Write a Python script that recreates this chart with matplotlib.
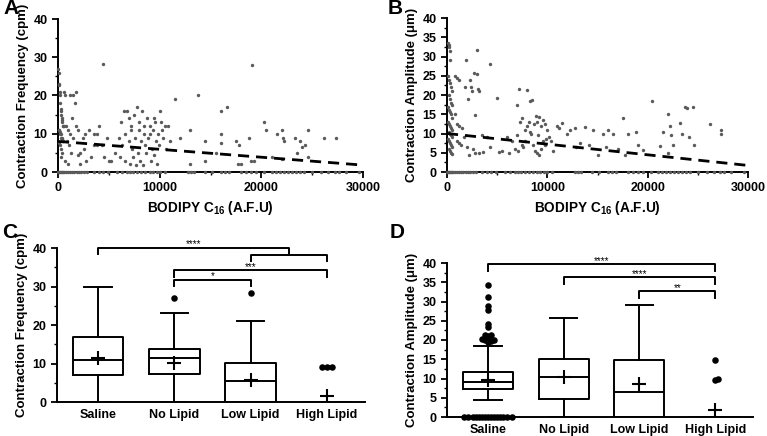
import numpy as np
import matplotlib
matplotlib.use("Agg")
import matplotlib.pyplot as plt
from matplotlib.ticker import MultipleLocator

plt.rcParams['font.family'] = 'Liberation Sans'
plt.rcParams['font.weight'] = 'bold'
plt.rcParams['axes.labelweight'] = 'bold'
plt.rcParams['mathtext.fontset'] = 'custom'
plt.rcParams['mathtext.rm'] = 'Liberation Sans:bold'
plt.rcParams['mathtext.bf'] = 'Liberation Sans:bold'

# ---- panel A : frequency vs BODIPY (x in thousands of A.F.U) ----
freq_x = [0.0, 0.05, 0.1, 0.1, 0.15, 0.2, 0.2, 0.25, 0.3, 0.3, 0.35, 0.4, 0.4, 0.45, 0.5,
          0.05, 0.1, 0.15, 0.2, 0.25, 0.3, 0.35, 0.4, 0.45, 0.5, 0.1, 0.2, 0.3, 0.4, 0.3,
          0.6, 0.7, 1.2, 1.5, 1.7, 1.8, 0.6, 0.8, 1.0, 1.2, 1.5, 0.9, 1.1, 1.3, 1.8, 2.0,
          2.2, 2.0, 2.2, 2.5, 2.7, 3.0, 3.2, 2.8, 2.6, 3.5, 3.8, 0.7, 1.0, 1.4,
          6.2, 6.5, 6.8, 7.0, 7.2, 7.5, 7.8, 8.0, 8.3, 8.5, 8.8, 9.0, 9.3, 9.5, 9.8, 10.0,
          10.2, 10.5, 10.8, 11.0, 6.0, 6.3, 6.6, 7.0, 7.3, 7.6, 7.9, 8.2, 8.6, 8.9, 9.2, 9.6,
          9.9, 10.3, 10.6, 6.1, 6.6, 7.1, 7.4, 7.7, 8.1, 8.4, 8.7, 9.1, 9.4, 9.7, 5.2, 5.6,
          4.8, 5.0, 4.0, 3.8, 4.3, 4.5, 3.5, 11.5, 12.0, 13.0, 13.0, 13.8, 14.5, 14.5, 15.5,
          16.0, 16.0, 16.0, 16.6, 17.5, 17.8, 17.7, 18.0, 18.8, 19.0, 19.3, 19.1, 20.3, 20.5,
          21.0, 21.5, 22.0, 22.1, 22.2, 22.0, 23.3, 23.5, 23.8, 24.0, 24.3, 24.6, 24.6, 26.2,
          27.3, 4.4, 8.0, 9.0, 8.5, 7.2, 9.4, 10.1]
freq_y = [27, 26, 23, 22.8, 21, 20, 18, 16.5, 16, 15, 14, 13.5, 13, 12, 12,
          11, 11, 10.5, 10, 10, 9, 9, 8.5, 8, 8, 7.5, 7, 6, 5, 4,
          21, 20, 20, 20, 18, 21, 12, 12, 11, 10, 9, 8, 7, 5, 12, 11,
          5, 4.5, 2, 9, 10, 11, 4, 3, 6, 7, 10, 3, 2, 14,
          13, 16, 16, 14, 12, 15, 17, 13, 16, 10, 14, 12, 11, 13, 10, 16,
          11, 12, 12, 8, 9, 7, 10, 8, 6, 9, 5, 8, 7, 9, 6, 8,
          7, 9, 6, 4, 3, 2, 4, 1.8, 3, 1.7, 5, 3, 4.5, 2, 3, 5,
          9, 3, 12, 7, 7, 4, 10, 19, 9, 2, 11, 20, 8, 3, 5,
          16, 10, 7.5, 17, 8, 7, 2, 2, 9, 3, 3, 28, 13, 11,
          4, 10, 11, 9, 8, 3.5, 9, 5, 8, 6.5, 7, 11, 4, 9,
          9, 28.2, 11, 10, 12, 11, 14, 13]
zero_x = [0.0, 0.1, 0.2, 0.3, 0.4, 0.5, 0.6, 0.8, 1.0, 1.2, 1.4, 1.6, 1.9, 2.1, 2.3, 2.6,
          2.9, 3.5, 4.0, 4.4, 4.9, 5.8, 6.3, 6.8, 7.1, 7.4, 7.8, 8.2, 8.6, 9.0, 9.3, 9.7,
          10.0, 10.5, 12.8, 13.1, 13.4, 14.5, 15.1, 16.0, 16.4, 16.8, 18.0, 18.5, 19.0,
          19.5, 20.3, 21.0, 21.4, 21.8, 22.2, 22.6, 23.0, 23.4, 23.8, 24.2, 25.0, 25.9,
          26.6, 27.2, 27.6, 28.3, 29.6]
trend_x = [0, 30]
trend_freq = [8.0, 1.8]

# ---- panel B : amplitude vs BODIPY ----
amp_x = [0.1, 0.15, 0.2, 0.3, 0.25, 0.1, 0.2, 0.3, 0.4, 0.5, 0.15, 0.25, 0.35, 0.45, 0.1,
         0.2, 0.3, 0.4, 0.5, 0.1, 0.2, 0.3, 0.4, 0.5, 0.15, 0.25, 0.35, 0.45, 0.1, 0.2,
         0.3, 0.4, 0.5, 0.2, 0.3, 0.4, 0.5,
         0.8, 1.0, 1.2, 1.8, 1.9, 2.1, 2.3, 2.4, 2.5, 2.7, 2.8, 3.0, 3.0, 3.1, 3.2, 0.8,
         1.0, 1.2, 1.5, 1.0, 1.2, 1.4, 1.7, 2.0, 2.2, 2.6, 2.8, 3.2, 3.5, 3.6, 4.0, 4.3,
         4.3, 5.0, 5.2, 5.5, 6.0, 6.2, 6.5, 7.0, 7.2, 7.0, 7.3, 7.5, 7.8, 8.0, 8.3, 8.5,
         6.8, 7.1, 7.5, 7.8, 8.0, 8.2, 8.4, 8.7, 8.9, 9.0, 9.2, 9.4, 9.6, 9.8, 10.0, 8.6,
         8.8, 9.0, 9.2, 9.4, 9.6, 9.8, 10.2, 10.4, 10.6, 11.0, 11.2, 11.5, 12.0, 12.3,
         12.8, 12.9, 13.3, 13.8, 14.2, 14.6, 15.0, 15.5, 15.8, 16.0, 16.5, 17.0, 17.5,
         17.7, 18.0, 18.8, 19.0, 19.5, 20.4, 21.2, 21.5, 22.0, 22.0, 22.2, 22.3, 22.5,
         23.2, 23.4, 23.7, 23.9, 24.1, 24.5, 24.6, 26.2, 27.3, 27.3, 8.3, 9.1, 9.9, 7.6]
amp_y = [33.5, 33, 32.5, 31.5, 29, 25, 24, 23, 22, 21, 20, 19, 18, 17.5, 17,
         16, 15.5, 15, 14, 13, 12.5, 12, 11.5, 11, 10.5, 10, 9.5, 9, 8.5, 8,
         7.5, 7, 6.5, 6, 5.5, 5, 4.8,
         25, 24.5, 24, 22, 29.2, 19, 24, 22, 21, 25.7, 14.8, 25.5, 31.8, 21.5, 21, 15,
         12.5, 12, 11.5, 8, 7.5, 7, 9, 6.5, 4.5, 6, 5, 5, 9.5, 5.3, 9, 28,
         6.5, 19.2, 5.3, 5.5, 9, 5, 8, 17.3, 21.5, 9.5, 13, 14, 11, 21.2, 18.5, 18.8,
         6, 5.5, 7, 8, 12, 13, 10, 12.5, 14.5, 13, 14.2, 12, 13.5, 12.5, 11, 7,
         5.5, 5, 4.5, 6, 8, 7, 9, 8, 5.5, 12, 11.5, 12.7, 10, 11,
         11.3, 6.5, 7.5, 11.8, 7, 11, 4.5, 10, 6.5, 11, 10, 6, 14,
         4.5, 10, 10.5, 7, 5.8, 18.5, 6.8, 10.3, 5, 15, 12, 9.5, 7,
         12.7, 10, 16.8, 16.5, 9, 16.9, 7, 12.5, 11, 10, 10.5, 9.5, 8.5, 6.5]
trend_amp = [10.0, 1.7]

# ---- panels C and D : box plot summaries ----
groups = ['Saline', 'No Lipid', 'Low Lipid', 'High Lipid']
freq_q1 = [7.0, 7.2, 0.0, 0.0]
freq_med = [11.0, 11.5, 5.4, 0.0]
freq_q3 = [17.0, 13.8, 10.2, 0.0]
freq_lo = [0.0, 0.0, 0.0, 0.0]
freq_hi = [30.0, 23.0, 21.0, 0.0]
freq_mean = [11.3, 10.1, 5.8, 1.5]
freq_fliers = [[], [27.0], [28.2], [9.0, 9.0, 9.0]]

amp_q1 = [7.2, 4.8, 0.0, 0.0]
amp_med = [9.0, 10.5, 6.5, 0.0]
amp_q3 = [11.8, 15.0, 14.7, 0.0]
amp_lo = [4.5, 0.0, 0.0, 0.0]
amp_hi = [18.5, 25.6, 29.0, 0.0]
amp_mean = [9.7, 10.3, 8.6, 1.8]
amp_fliers = [[19.6, 19.7, 19.9, 20.1, 20.3, 21.1, 21.3, 21.4, 23.3, 24.1, 27.8, 28.9,
               31.2, 34.3] + [0.0] * 15, [], [], [14.7, 9.5, 9.8]]

# significance brackets: (left group, right group(s), bar height, label)
freq_sig = [(1, (3, 4), 40.0, '****'), (2, (4,), 34.2, '***'), (2, (3,), 31.8, '*')]
amp_sig = [(1, (4,), 39.7, '****'), (2, (4,), 36.3, '****'), (3, (4,), 32.6, '**')]

W, H = 767, 436
fig = plt.figure(figsize=(W / 100, H / 100), dpi=100)


def px_axes(l, t, r, b):
    return fig.add_axes([l / W, 1 - b / H, (r - l) / W, (b - t) / H])


def style(ax):
    for s in ['top', 'right']:
        ax.spines[s].set_visible(False)
    for s in ['left', 'bottom']:
        ax.spines[s].set_linewidth(1.4)
    ax.tick_params(which='major', direction='out', length=4, width=1.3, labelsize=9)
    ax.tick_params(which='minor', direction='out', length=2.5, width=1.0)


def scatter_panel(ax, x, y, trend, ylabel, ystep, yminor):
    ax.scatter(x, y, s=6, color='#5a5a5a', linewidths=0, zorder=3, clip_on=False)
    ax.scatter(zero_x, [0] * len(zero_x), s=6, color='#5a5a5a', linewidths=0,
               zorder=3, clip_on=False)
    ax.plot(trend_x, trend, color='black', lw=2, dashes=(4, 2.5), zorder=4)
    ax.set_xlim(0, 30)
    ax.set_ylim(0, 40)
    ax.set_xticks([0, 10, 20, 30])
    ax.set_xticklabels(['0', '10000', '20000', '30000'])
    ax.xaxis.set_minor_locator(MultipleLocator(5))
    ax.yaxis.set_major_locator(MultipleLocator(ystep))
    ax.yaxis.set_minor_locator(MultipleLocator(yminor))
    ax.set_xlabel(r'BODIPY C$_{\mathbf{16}}$ (A.F.U)', fontsize=9.8, labelpad=3)
    ax.set_ylabel(ylabel, fontsize=9.5, labelpad=3)
    style(ax)


def swarm(vals, pos, ax, dist):
    # simple beeswarm in pixel units
    placed = []
    pxx, pxy = 76.0, 154.0 / 40
    xs, ys = [], []
    for v in sorted(vals):
        for k in range(60):
            off = ((k + 1) // 2) * (1 if k % 2 else -1) * dist / pxx / 2
            ok = all(((off - o) * pxx) ** 2 + ((v - w) * pxy) ** 2 >= dist ** 2
                     for o, w in placed)
            if ok:
                placed.append((off, v))
                xs.append(pos + off)
                ys.append(v)
                break
    ax.scatter(xs, ys, s=22, color='black', linewidths=0, zorder=4, clip_on=False)


def box_panel(ax, q1, med, q3, lo, hi, mean, fliers, sig, ylabel, ystep, yminor, dist):
    stats = [dict(q1=a, med=m, q3=b, whislo=l, whishi=h, mean=mu, fliers=[])
             for a, m, b, l, h, mu in zip(q1, med, q3, lo, hi, mean)]
    lw = 1.4
    ax.bxp(stats, positions=[1, 2, 3, 4], widths=0.66, capwidths=0.36,
           showmeans=True, showfliers=False,
           boxprops=dict(lw=lw, color='black'), whiskerprops=dict(lw=lw),
           capprops=dict(lw=lw), medianprops=dict(lw=lw, color='black'),
           meanprops=dict(marker='+', markersize=10, markeredgecolor='black',
                          markeredgewidth=1.5))
    for i, f in enumerate(fliers):
        if f:
            swarm(f, i + 1, ax, dist)
    for left, rights, y, lab in sig:
        if len(rights) == 2:
            mid = sum(rights) / 2.0
            y2 = y - 1.7
            ax.plot([left, left, mid, mid], [y - 1.6, y, y, y2], color='black', lw=lw,
                    clip_on=False)
            ax.plot([rights[0], rights[0], rights[1], rights[1]],
                    [y2 - 1.8, y2, y2, y2 - 1.8], color='black', lw=lw, clip_on=False)
            xm = (left + mid) / 2.0
        else:
            r = rights[0]
            ax.plot([left, left, r, r], [y - 1.7, y, y, y - 1.7], color='black', lw=lw,
                    clip_on=False)
            xm = (left + r) / 2.0
        ax.text(xm, y + 0.9, lab, ha='center', va='center', fontsize=7,
                fontweight='normal')
    ax.set_xlim(0.46, 4.5)
    ax.set_ylim(0, 40)
    ax.set_xticks([1, 2, 3, 4])
    ax.set_xticklabels(groups)
    ax.yaxis.set_major_locator(MultipleLocator(ystep))
    ax.yaxis.set_minor_locator(MultipleLocator(yminor))
    ax.set_ylabel(ylabel, fontsize=9.5, labelpad=3)
    style(ax)
    ax.tick_params(axis='x', length=0, pad=5, labelsize=9)


axA = px_axes(58, 19, 363, 172)
scatter_panel(axA, freq_x, freq_y, trend_freq, 'Contraction Frequency (cpm)', 10, 5)

axB = px_axes(447, 18, 748, 172)
scatter_panel(axB, amp_x, amp_y, trend_amp, 'Contraction Amplitude (μm)', 5, 2.5)

axC = px_axes(57, 248, 365, 402)
box_panel(axC, freq_q1, freq_med, freq_q3, freq_lo, freq_hi, freq_mean, freq_fliers,
          freq_sig, 'Contraction Frequency (cpm)', 10, 5, 5.0)

axD = px_axes(447, 263, 753, 417)
box_panel(axD, amp_q1, amp_med, amp_q3, amp_lo, amp_hi, amp_mean, amp_fliers,
          amp_sig, 'Contraction Amplitude (μm)', 5, 2.5, 3.0)

for lab, x, y in [('A', 3, 9), ('B', 388, 8), ('C', 2, 232), ('D', 390, 233)]:
    fig.text(x / W, 1 - y / H, lab, fontsize=15, fontweight='bold', va='center')

fig.savefig('out.png', dpi=100)
